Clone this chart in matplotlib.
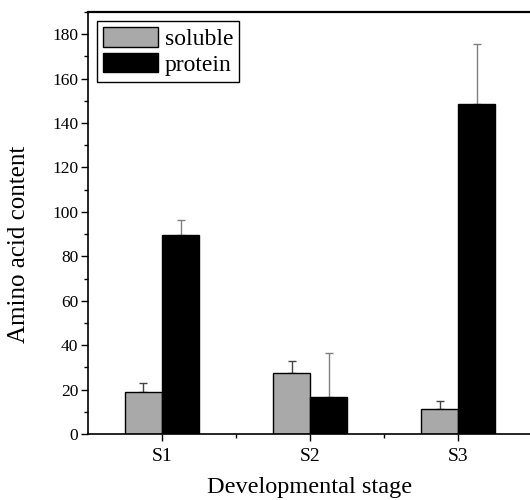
import matplotlib
matplotlib.use("Agg")
import matplotlib.pyplot as plt
import numpy as np
from matplotlib.ticker import MultipleLocator, FixedLocator

# data
stages = ["S1", "S2", "S3"]
soluble = [19.0, 27.6, 11.1]
soluble_err = [3.8, 5.4, 3.6]
protein = [89.5, 16.5, 148.8]
protein_err = [6.8, 20.1, 27.0]

plt.rcParams["font.family"] = ["Liberation Serif", "DejaVu Serif"]

fig = plt.figure(figsize=(5.3, 5.0), dpi=100)
ax = fig.add_axes([0.166, 0.132, 0.838, 0.844])

x = np.arange(1, len(stages) + 1)
w = 0.25
ax.bar(x - w / 2, soluble, w, color="#a9a9a9", edgecolor="black",
       linewidth=1.0, label="soluble", zorder=2)
ax.bar(x + w / 2, protein, w, color="black", edgecolor="black",
       linewidth=1.0, label="protein", zorder=2)
ax.errorbar(x - w / 2, soluble, yerr=[np.zeros(3), soluble_err], fmt="none",
            ecolor="#444444", elinewidth=1.0, capsize=3, capthick=1.0, zorder=1)
ax.errorbar(x + w / 2, protein, yerr=[np.zeros(3), protein_err], fmt="none",
            ecolor="#808080", elinewidth=1.0, capsize=3, capthick=1.0, zorder=1)

ax.set_xlim(0.5, 3.5)
ax.set_ylim(0, 190)
ax.set_xticks(x)
ax.set_xticklabels(stages)
ax.xaxis.set_minor_locator(FixedLocator([1.5, 2.5]))
ax.yaxis.set_major_locator(MultipleLocator(20))
ax.yaxis.set_minor_locator(MultipleLocator(10))
ax.tick_params(axis="both", which="major", direction="out", length=5,
               width=1.0)
ax.tick_params(axis="both", which="minor", direction="out", length=3,
               width=1.0)
ax.tick_params(axis="y", labelsize=12.5, pad=2)
ax.tick_params(axis="x", labelsize=14, pad=5)

for s in ax.spines.values():
    s.set_linewidth(1.2)
ax.spines["top"].set_linewidth(1.6)

ax.set_xlabel("Developmental stage", fontsize=17.5)
ax.set_ylabel("Amino acid content", fontsize=18)
ax.xaxis.set_label_coords(0.5, -0.126)
ax.xaxis.label.set_va("center")
ax.yaxis.set_label_coords(-0.155, 0.45)
ax.yaxis.label.set_va("center")

ax.legend(loc="upper left", fontsize=17, frameon=True, fancybox=False,
          edgecolor="black", framealpha=1, handlelength=2.3,
          handleheight=0.9, handletextpad=0.3, borderpad=0.25,
          labelspacing=0.1, borderaxespad=0.4)

fig.savefig("out.png", dpi=100)
